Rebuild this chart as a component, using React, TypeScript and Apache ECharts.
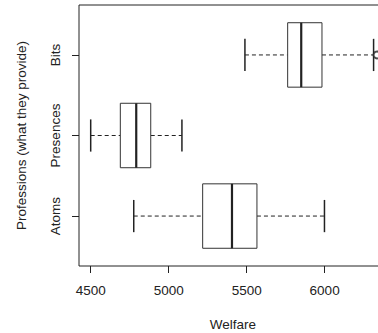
import React, { useEffect, useRef } from "react";
import * as echarts from "echarts";

const categories = ["Atoms", "Presences", "Bits"];
const lowWhisker = [4776, 4500, 5489];
const q1 = [5218, 4690, 5763];
const median = [5406, 4792, 5850];
const q3 = [5566, 4885, 5983];
const highWhisker = [5999, 5085, 6314];
const outliers: [number, number][] = [[6336, 3]];
const xTicks = [4500, 5000, 5500, 6000];
const yTicks = [1, 2, 3];

const FONT = "'Liberation Sans', Arial, sans-serif";
const INK = "#222";

export default function App() {
  const ref = useRef<HTMLDivElement>(null);
  useEffect(() => {
    document.body.style.margin = "0";
    const chart = echarts.init(ref.current!, null, { renderer: "svg" });
    const boxData = categories.map((_, i) => [
      i + 1,
      lowWhisker[i],
      q1[i],
      median[i],
      q3[i],
      highWhisker[i],
    ]);
    chart.setOption({
      animation: false,
      backgroundColor: "#fff",
      grid: {
        left: 79,
        top: 5,
        width: 308,
        height: 261,
        containLabel: false,
        outerBoundsMode: "none",
        show: true,
        borderColor: INK,
        borderWidth: 1,
        backgroundColor: "transparent",
      },
      xAxis: {
        type: "value",
        min: 4425,
        max: 6400,
        splitLine: { show: false },
        axisLine: { show: false },
        axisTick: {
          show: true,
          length: 7,
          customValues: xTicks,
          lineStyle: { color: INK },
        },
        axisLabel: {
          customValues: xTicks,
          margin: 17,
          fontSize: 13.5,
          fontFamily: FONT,
          color: INK,
          formatter: (v: number) => String(v),
        },
        name: "Welfare",
        nameLocation: "middle",
        nameGap: 51,
        nameTextStyle: { fontSize: 13.5, fontFamily: FONT, color: INK },
      },
      yAxis: {
        type: "value",
        min: 0.38,
        max: 3.62,
        splitLine: { show: false },
        axisLine: { show: false },
        axisTick: {
          show: true,
          length: 7,
          customValues: yTicks,
          lineStyle: { color: INK },
        },
        axisLabel: {
          customValues: yTicks,
          rotate: 90,
          margin: 17,
          fontSize: 13.5,
          fontFamily: FONT,
          color: INK,
          formatter: (v: number) => categories[Math.round(v) - 1] ?? "",
        },
        name: "Professions (what they provide)",
        nameLocation: "middle",
        nameGap: 51,
        nameRotate: 90,
        nameTextStyle: { fontSize: 13.5, fontFamily: FONT, color: INK },
      },
      series: [
        {
          type: "custom",
          data: boxData,
          clip: false,
          renderItem: (params: any, api: any) => {
            const y = api.value(0);
            const lo = api.coord([api.value(1), y]);
            const a = api.coord([api.value(2), y]);
            const m = api.coord([api.value(3), y]);
            const b = api.coord([api.value(4), y]);
            const hi = api.coord([api.value(5), y]);
            const half = api.size([0, 0.4])[1];
            const cap = api.size([0, 0.2])[1];
            const cy = lo[1];
            return {
              type: "group",
              children: [
                {
                  type: "line",
                  shape: { x1: lo[0], y1: cy, x2: a[0], y2: cy },
                  style: { stroke: INK, lineWidth: 1, lineDash: [4, 3] },
                },
                {
                  type: "line",
                  shape: { x1: b[0], y1: cy, x2: hi[0], y2: cy },
                  style: { stroke: INK, lineWidth: 1, lineDash: [4, 3] },
                },
                {
                  type: "line",
                  shape: { x1: lo[0], y1: cy - cap, x2: lo[0], y2: cy + cap },
                  style: { stroke: INK, lineWidth: 1.5 },
                },
                {
                  type: "line",
                  shape: { x1: hi[0], y1: cy - cap, x2: hi[0], y2: cy + cap },
                  style: { stroke: INK, lineWidth: 1.5 },
                },
                {
                  type: "rect",
                  shape: { x: a[0], y: cy - half, width: b[0] - a[0], height: 2 * half },
                  style: { stroke: "#333", fill: "#fff", lineWidth: 1 },
                },
                {
                  type: "line",
                  shape: { x1: m[0], y1: cy - half, x2: m[0], y2: cy + half },
                  style: { stroke: INK, lineWidth: 2.2 },
                },
              ],
            };
          },
        },
        {
          type: "scatter",
          data: outliers,
          symbol: "emptyCircle",
          symbolSize: 7,
          itemStyle: { color: INK, borderColor: INK, borderWidth: 1 },
        },
      ],
    });
    return () => chart.dispose();
  }, []);
  return <div ref={ref} style={{ width: 378, height: 333, position: "fixed", left: 0, top: 0 }} />;
}
